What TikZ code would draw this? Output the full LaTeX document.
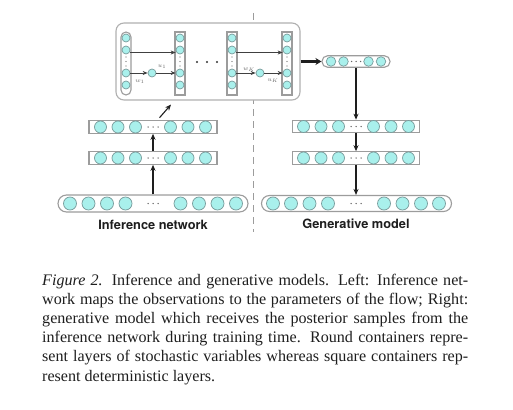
\documentclass[tikz,border=0pt]{standalone}
\usepackage{fontspec}
\setmainfont{Liberation Serif}
\setsansfont{TeX Gyre Heros}
\usetikzlibrary{arrows.meta}
\definecolor{ncyan}{HTML}{A9F0EC}
\definecolor{nedge}{HTML}{789C9C}
\definecolor{boxgray}{HTML}{9C9C9C}
\definecolor{lightbox}{HTML}{B0B0B0}
\definecolor{inkc}{HTML}{1E1E1E}
\tikzset{
  neuron/.style={circle, draw=nedge, fill=ncyan, line width=0.7pt, inner sep=0pt, minimum size=12pt},
  bigneuron/.style={neuron, minimum size=13pt},
  smallneuron/.style={neuron, minimum size=8pt},
  topneuron/.style={neuron, minimum size=9.5pt},
  sqbox/.style={rectangle, draw=boxgray, fill=white, line width=1.1pt, inner sep=0pt},
  rdbox/.style={sqbox, rounded corners=#1},
  arr/.style={-{Stealth[length=6pt,width=5pt]}, line width=1.1pt, draw=inkc},
  thinarr/.style={-{Stealth[length=5pt,width=4pt]}, line width=0.8pt, draw=black!75},
  thickarr/.style={-{Stealth[length=6pt,width=7pt]}, line width=2.2pt, draw=inkc},
  dashline/.style={draw=boxgray, line width=0.9pt, dash pattern=on 7pt off 5pt},
  lbl/.style={font=\fontsize{6.5}{7}\selectfont, text=black!60, inner sep=0pt},
  dotdot/.style={fill=black!60, draw=none, circle, inner sep=0pt, minimum size=1.5pt},
  bigdot/.style={fill=black!80, draw=none, circle, inner sep=0pt, minimum size=2.3pt},
  heading/.style={font=\sffamily\bfseries\fontsize{12.8}{14}\selectfont, text=inkc},
}
\begin{document}
\begin{tikzpicture}[x=1pt,y=-1pt]
\useasboundingbox (0,0) rectangle (513,409);
% dashed separator
\coordinate (dtop) at (253,13);
\coordinate (dbot) at (253,232);
\draw[dashline] (dtop) -- (dbot);

% ---------- big flow box ----------
\node[rdbox=8pt, draw=lightbox, minimum width=184pt, minimum height=77pt] (BB) at (208,61.5) {};
\node[rdbox=5pt, minimum width=10pt, minimum height=63pt] (C1) at (126,63.5) {};
\node[sqbox, minimum width=10pt, minimum height=63pt] (C2) at (180,63.5) {};
\node[sqbox, minimum width=10pt, minimum height=63pt] (C3) at (232,63.5) {};
\node[sqbox, minimum width=10pt, minimum height=63pt] (C4) at (287,63.5) {};
\foreach \c/\x in {1/126,2/180,3/232,4/287}{
  \foreach \y [count=\i] in {38,50,73,85}
    \node[smallneuron] (C\c n\i) at (\x,\y) {};
  \foreach \y in {57,61.5,66}
    \node[dotdot, minimum size=1.3pt] at (\x,\y) {};
}
\node[smallneuron] (M1) at (152,73) {};
\node[smallneuron] (M2) at (260,73) {};
\draw[thinarr] ([yshift=-2.5pt]C1n2.east) -- ([yshift=-2.5pt]C2n2.west);
\draw[thinarr] (C1n3.east) -- (M1.west);
\draw[thinarr] (M1.east) -- (C2n3.west);
\draw[thinarr] ([yshift=-2.5pt]C3n2.east) -- ([yshift=-2.5pt]C4n2.west);
\draw[thinarr] (C3n3.east) -- (M2.west);
\draw[thinarr] (M2.east) -- (C4n3.west);
\node[lbl] at (140,82) {$w_1$};
\node[lbl] at (162,66.5) {$u_1$};
\node[lbl] at (249,69.5) {$w_K$};
\node[lbl] at (273,80.5) {$u_K$};
\foreach \x in {197,207,217}
  \node[bigdot] at (\x,62) {};

% ---------- inference network (left) ----------
\node[rdbox=8.5pt, minimum width=190pt, minimum height=17pt] (IB) at (153,203.5) {};
\node[sqbox, minimum width=128pt, minimum height=12.5pt] (IL2) at (153,158) {};
\node[sqbox, minimum width=128pt, minimum height=12.5pt] (IL1) at (153,127) {};
\foreach \dx [count=\i] in {-83,-64.5,-46,-27.5,27.5,46,64.5,83}
  \node[bigneuron] (IBn\i) at ({153+\dx},203.5) {};
\foreach \L/\y in {IL1/127,IL2/158}{
  \foreach \dx [count=\i] in {-52.5,-35,-17.5,17.5,35,52.5}
    \node[neuron] (\L n\i) at ({153+\dx},\y) {};
  \foreach \dx in {-5,0,5}
    \node[dotdot] at ({153+\dx},\y) {};
}
\foreach \dx in {-5,0,5}
  \node[dotdot] at ({153+\dx},203.5) {};
\draw[arr] (IB.north) -- (IL2.south);
\draw[arr] (IL2.north) -- (IL1.south);
\draw[arr] ([xshift=6.5pt,yshift=2.5pt]IL1.north) -- ([xshift=-37pt,yshift=-4pt]BB.south);
\node[heading] (INlab) at (153,225) {Inference network};

% ---------- generative model (right) ----------
\node[rdbox=5.5pt, minimum width=68pt, minimum height=11.5pt] (TR) at (356,61.5) {};
\foreach \dx [count=\i] in {-25,-12.5,12.5,25}
  \node[topneuron] (TRn\i) at ({356+\dx},61.5) {};
\foreach \dx in {-4.5,0,4.5}
  \node[dotdot] at ({356+\dx},61.5) {};
\node[sqbox, minimum width=127pt, minimum height=12.5pt] (RL1) at (356,126.5) {};
\node[sqbox, minimum width=127pt, minimum height=12.5pt] (RL2) at (356,158) {};
\node[rdbox=8pt, minimum width=190pt, minimum height=16pt] (RB) at (356.5,203.5) {};
\foreach \L/\y in {RL1/126.5,RL2/158}{
  \foreach \dx [count=\i] in {-52.5,-35,-17.5,17.5,35,52.5}
    \node[neuron] (\L n\i) at ({356+\dx},\y) {};
  \foreach \dx in {-5,0,5}
    \node[dotdot] at ({356+\dx},\y) {};
}
\foreach \dx [count=\i] in {-83,-65,-46.5,-28,28,46.5,65,83}
  \node[bigneuron] (RBn\i) at ({356+\dx},203.5) {};
\foreach \dx in {-5,0,5}
  \node[dotdot] at ({356+\dx},203.5) {};
\draw[thickarr] (BB.east) -- (TR.west);
\draw[arr] (TR.south) -- (TR.south |- RL1.north);
\draw[arr] (RL1.south) -- (RL1.south |- RL2.north);
\draw[arr] (RL2.south) -- (RL2.south |- RB.north);
\node[heading] (GMlab) at (356,224) {Generative model};

% ---------- caption ----------
\node[anchor=north west, inner sep=0pt, text width=426pt, align=justify, text=inkc,
      font=\fontsize{16.1}{19.1}\selectfont] (cap) at (42,274)
 {\hyphenpenalty=10000\tolerance=10000
  \textit{Figure 2.} Inference and generative models. Left: Inference net-\linebreak
  work maps the observations to the parameters of the flow; Right:\linebreak
  generative model which receives the posterior samples from the\linebreak
  inference network during training time. Round containers repre-\linebreak
  sent layers of stochastic variables whereas square containers rep-\linebreak
  resent deterministic layers.};
\end{tikzpicture}
\end{document}
